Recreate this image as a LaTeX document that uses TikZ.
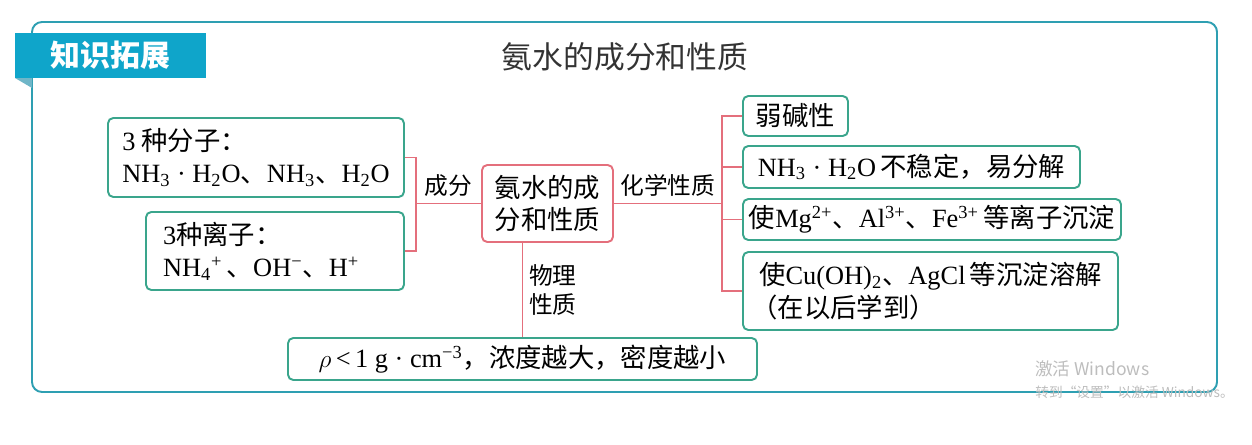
\documentclass[tikz,border=0pt]{standalone}
\usepackage{fontspec}
\setmainfont{Noto Sans CJK SC}
\newfontfamily\lat{Liberation Serif}
\usepackage{tikz}
\usepackage{xcolor}
\definecolor{frameC}{HTML}{2E9FB2}
\definecolor{tabC}{HTML}{0FA5CA}
\definecolor{foldC}{HTML}{6FB6C8}
\definecolor{boxC}{HTML}{3AA58C}
\definecolor{redC}{HTML}{E46F7C}
\definecolor{wmC}{HTML}{BDBDBD}

\begin{document}
\begin{tikzpicture}[auto]
    % Styles for boxes and lines
    \tikzset{
      box/.style={rectangle, rounded corners=3pt, draw=boxC, line width=1.1pt, align=left, inner sep=2pt, font=\fontsize{15}{18.5}\selectfont},
      core/.style={box, draw=redC, align=center},
      link/.style={draw=redC, line width=0.9pt},
      lbl/.style={font=\fontsize{13.5}{16}\selectfont, text=black, align=left}
    }
    \useasboundingbox (0,0) rectangle (25.04,-8.9);

    % Frame and tab
    \draw[frameC, line width=1.1pt, rounded corners=5.7pt] (0.64,-0.44) rectangle (24.34,-7.84);
    \fill[foldC] (0.30,-1.56) -- (0.64,-1.56) -- (0.64,-1.76) -- cycle;
    \node[fill=tabC, minimum width=3.82cm, minimum height=0.9cm, text=white, font=\fontsize{17}{20}\selectfont\bfseries] (TAB) at (2.21,-1.11) {知识拓展};
    \node[text=black!80, font=\fontsize{17.5}{21}\selectfont] (TITLE) at (12.5,-1.14) {氨水的成分和性质};

    % Nodes with explicit coordinates
    \node[box, minimum width=5.92cm, minimum height=1.58cm] (MOL) at (5.12,-3.15) {{\lat 3} 种分子：\\{\lat NH\textsubscript{3} · H\textsubscript{2}O}、{\lat NH\textsubscript{3}}、{\lat H\textsubscript{2}O}};
    \node[box, text width=4.48cm, inner xsep=0.34cm, minimum height=1.56cm] (ION) at (5.50,-5.02) {{\lat 3}种离子：\\{\lat NH\textsubscript{4}\textsuperscript{+}}\,、{\lat OH\textsuperscript{−}}、{\lat H\textsuperscript{+}}};
    \node[core, minimum width=2.62cm, minimum height=1.54cm] (CORE) at (10.95,-4.07) {氨水的成\\分和性质};

    \node[box, minimum width=2.1cm, minimum height=0.8cm] (WEAK) at (15.91,-2.32) {弱碱性};
    \node[box, minimum width=6.74cm, minimum height=0.84cm] (UNST) at (18.23,-3.34) {{\lat NH\textsubscript{3} · H\textsubscript{2}O}\,不稳定，易分解};
    \node[box, minimum width=7.56cm, minimum height=0.82cm] (PREC) at (18.64,-4.39) {使{\lat Mg\textsuperscript{2+}}、{\lat Al\textsuperscript{3+}}、{\lat Fe\textsuperscript{3+}}\,等离子沉淀};
    \node[box, minimum width=7.5cm, minimum height=1.56cm] (DISS) at (18.61,-5.82) {使{\lat Cu(OH)\textsubscript{2}}、{\lat AgCl}\,等沉淀溶解\\\hspace*{-0.3em}（在以后学到）};

    \node[box, minimum width=9.38cm, minimum height=0.84cm] (PHYS) at (10.45,-7.18) {$\rho${\lat\,<\,1 g · cm\textsuperscript{−3}}，浓度越大，密度越小};

    \coordinate (JL) at (8.32,-4.07);
    \coordinate (JR) at (14.44,-4.07);

    % Lines with labels
    \draw[link] (MOL.east) -| (JL) |- (ION.east);
    \draw[link] (JL) -- node[lbl, midway, above] {成分} (CORE.west);
    \draw[link] (CORE.east) -- node[lbl, midway, above] {化学性质} (JR);
    \draw[link] (JR) |- (WEAK.west);
    \draw[link] (JR) |- (UNST.west);
    \draw[link] (JR) |- (PREC.west);
    \draw[link] (JR) |- (DISS.west);
    \draw[link] (PHYS.north) -- node[lbl, midway, right] {物理\\性质} (PHYS.north |- CORE.south);

    % Watermark
    \node[anchor=west, text=wmC, inner sep=0pt, font=\fontsize{10}{12}\selectfont] (WM1) at (20.70,-7.38) {激活 Windows};
    \node[anchor=west, text=wmC, inner sep=0pt, font=\fontsize{7.8}{9}\selectfont] (WM2) at (20.70,-7.84) {转到“设置”以激活 Windows。};
\end{tikzpicture}
\end{document}
